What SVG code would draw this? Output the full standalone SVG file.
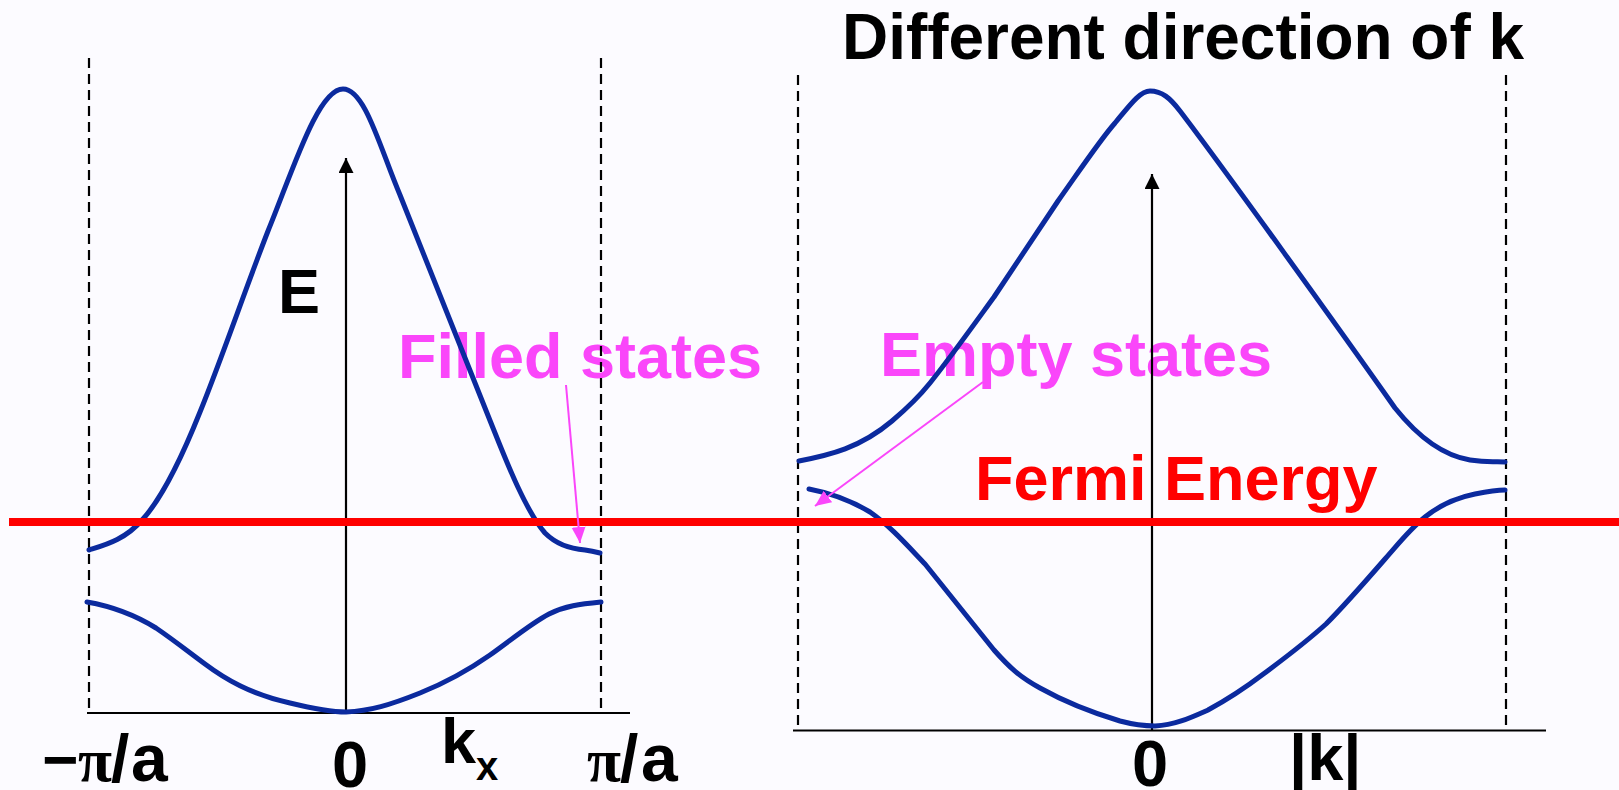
<svg xmlns="http://www.w3.org/2000/svg" width="1619" height="790" viewBox="0 0 1619 790">
<defs>
<style>
.t{font-family:"Liberation Sans",Arial,sans-serif;font-weight:bold}
.s{font-family:"Liberation Serif","Times New Roman",serif;font-weight:bold}
.dash{stroke:#000;stroke-width:2.2;stroke-dasharray:10 6;fill:none}
.ax{stroke:#000;stroke-width:2.2;fill:none}
.band{stroke:#0B2A9E;stroke-width:5;fill:none;stroke-linecap:round;stroke-linejoin:round}
.mg{stroke:#FA46FA;stroke-width:2;fill:none}
</style>
<marker id="ah" markerUnits="userSpaceOnUse" markerWidth="16" markerHeight="16" refX="15" refY="7.5" orient="auto"><path d="M0,0 L15,7.5 L0,15 z" fill="#000"/></marker>
<marker id="mh" markerUnits="userSpaceOnUse" markerWidth="18" markerHeight="16" refX="16" refY="7" orient="auto"><path d="M0,0 L16,7 L0,14 z" fill="#FA46FA"/></marker>
</defs>
<rect width="1619" height="790" fill="#FCFBFF"/>

<g id="labels">
<text class="t" x="842" y="59" font-size="64" textLength="682" lengthAdjust="spacingAndGlyphs">Different direction of k</text>
<text class="t" x="278" y="313" font-size="63">E</text>
<text class="t" x="398" y="378" font-size="63" fill="#FA46FA">Filled states</text>
<text class="t" x="880" y="376" font-size="63" fill="#FA46FA">Empty states</text>
<text class="t" x="975" y="500" font-size="63" fill="#FF0000">Fermi Energy</text>
<text class="t" y="781" font-size="62"><tspan x="42">−</tspan><tspan class="s" x="78">π</tspan><tspan x="111" font-size="66">/</tspan><tspan x="131" font-size="66">a</tspan></text>
<text class="t" x="332" y="787" font-size="65">0</text>
<text class="t" x="441" y="763" font-size="63">k</text>
<text class="t" x="476" y="780" font-size="40">x</text>
<text class="t" y="781" font-size="62"><tspan class="s" x="587">π</tspan><tspan x="620" font-size="66">/</tspan><tspan x="641" font-size="66">a</tspan></text>
<text class="t" x="1132" y="786" font-size="65">0</text>
<text class="t" x="1289" y="780" font-size="65">|k|</text>
</g>

<g id="left-panel">
<line class="dash" x1="89" y1="58" x2="89" y2="713"/>
<line class="dash" x1="601" y1="58" x2="601" y2="713"/>
<line class="ax" x1="87" y1="713" x2="630" y2="713"/>
<line class="ax" x1="346" y1="713" x2="346" y2="158" marker-end="url(#ah)"/>
<path class="band" d="M89,550 C105,545 125,540 143,519 C160,500 180,462 200,412 C223,355 245,290 268,231 C293,170 318,89 343,89 C365,89 380,148 400,195 C430,270 460,345 491,423 C505,458 525,510 545,533 C558,546 572,549 585,550 C592,551 596,552 600,553"/>
<path class="band" d="M87,602 C110,606 135,615 156,628 C175,641 190,653 205,664 C225,679 250,694 290,703 C315,709 330,712 346,712 C370,711 390,705 420,693 C445,683 470,669 490,655 C510,641 530,624 549,614 C565,606 580,604 601,602"/>
</g>

<g id="right-panel">
<line class="dash" x1="798" y1="75" x2="798" y2="730"/>
<line class="dash" x1="1506" y1="75" x2="1506" y2="730"/>
<line class="ax" x1="793" y1="730.5" x2="1546" y2="730.5"/>
<line class="ax" x1="1152" y1="730" x2="1152" y2="174" marker-end="url(#ah)"/>
<path class="band" d="M799,461 C830,455 860,448 892,421 C905,410 918,398 930,383 C950,358 970,330 994,297 L1058,201 C1080,170 1100,140 1115,123 C1130,105 1140,91 1150,91 C1162,91 1170,98 1180,111 C1225,170 1340,330 1395,408 C1415,433 1440,455 1470,460 C1490,463 1495,461 1505,462"/>
<path class="band" d="M809,489 C825,492 845,497 870,512 C890,526 905,543 925,564 L994,650 C1010,668 1020,677 1040,688 C1065,702 1090,712 1120,721 C1135,725 1145,726 1155,726 C1175,725 1190,718 1208,710 C1230,698 1245,688 1262,675 C1285,658 1305,643 1326,624 C1345,605 1365,582 1385,559 C1400,542 1410,529 1425,517 C1440,505 1455,498 1475,494 C1490,491 1498,490 1505,490"/>
</g>

<g id="fermi-line">
<line x1="9" y1="522" x2="1619" y2="522" stroke="#FF0000" stroke-width="8"/>
</g>

<g id="connectors">
<line class="mg" x1="566" y1="385" x2="580" y2="543" marker-end="url(#mh)"/>
<line class="mg" x1="983" y1="382" x2="815" y2="506" marker-end="url(#mh)"/>
</g>
</svg>
